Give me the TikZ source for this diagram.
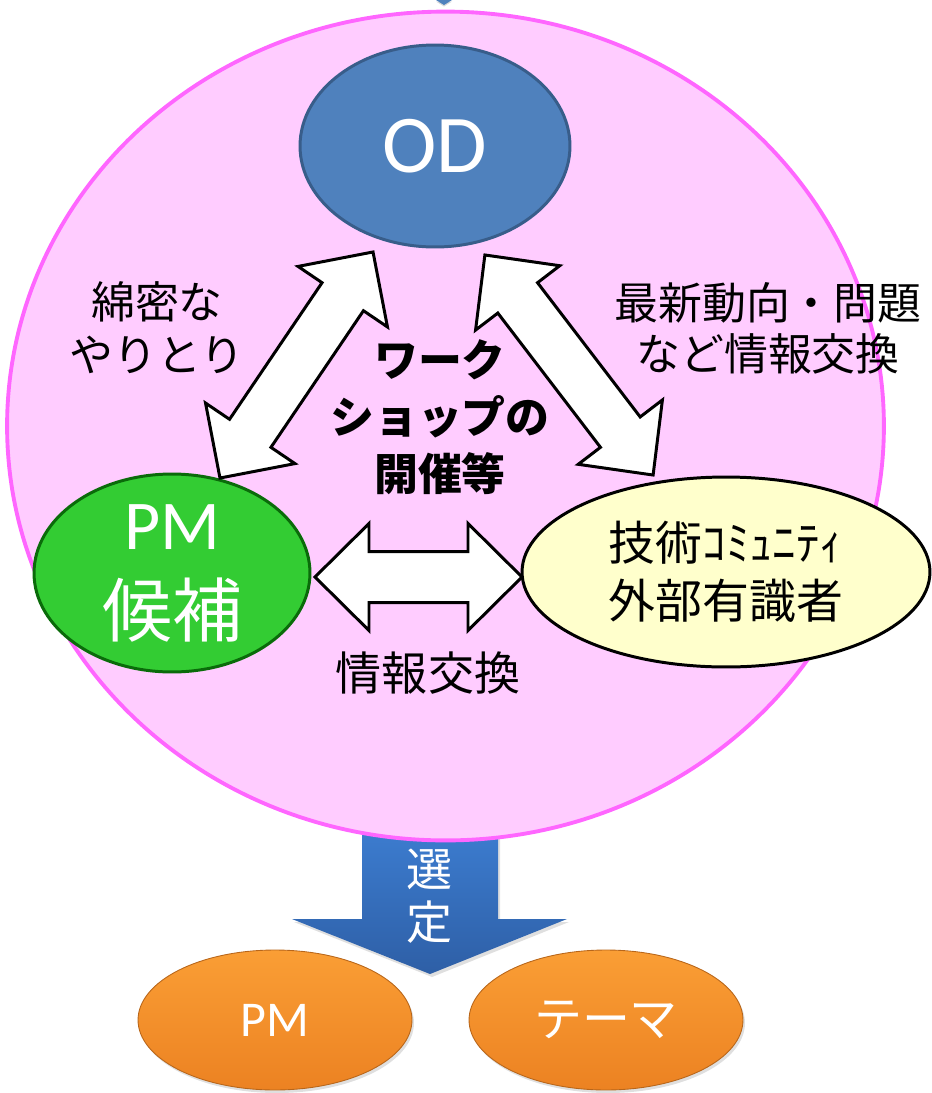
\documentclass[tikz,border=0pt]{standalone}
\usepackage{fontspec}
\setmainfont{Noto Sans CJK JP}
\newfontfamily\lat{Carlito}
\usetikzlibrary{shapes.geometric,shadows}
\definecolor{pinkfill}{HTML}{FFCCFF}
\definecolor{pinkline}{HTML}{FF66FF}
\definecolor{odfill}{HTML}{4F81BD}
\definecolor{odline}{HTML}{385D8A}
\definecolor{pmfill}{HTML}{33CC33}
\definecolor{pmline}{HTML}{0A6B0A}
\definecolor{extfill}{HTML}{FFFFCC}
\definecolor{orgtop}{HTML}{FA9E35}
\definecolor{orgbot}{HTML}{EC8222}
\definecolor{orgline}{HTML}{B8661A}
\definecolor{arrtop}{HTML}{3D7ED2}
\definecolor{arrbot}{HTML}{2E5FA6}
\tikzset{
  bigcircle/.style={ellipse, draw=pinkline, fill=pinkfill, line width=2.2pt, inner sep=0pt},
  odnode/.style={ellipse, draw=odline, fill=odfill, line width=1.7pt, text=white, inner sep=0pt},
  pmnode/.style={ellipse, draw=pmline, fill=pmfill, line width=1.7pt, text=white, inner sep=0pt, align=center},
  extnode/.style={ellipse, draw=black, fill=extfill, line width=1.7pt, inner sep=0pt, align=center},
  resnode/.style={ellipse, draw=orgline, line width=0.5pt, top color=orgtop, bottom color=orgbot, text=white, inner sep=0pt,
     drop shadow={opacity=0.25, shadow xshift=0.04cm, shadow yshift=-0.06cm}},
  lbl/.style={inner sep=0pt, align=center, text=black},
  blk/.style={draw=black, fill=white, line width=1.7pt, line join=miter},
}
\newcommand\blockarrow[7]{%
  \begin{scope}[shift={(#1,#2)}, rotate=#3]
    \draw[blk] ({-#4},0) -- ({-#4+#5},{#6}) -- ({-#4+#5},{#7}) -- ({#4-#5},{#7}) -- ({#4-#5},{#6}) -- ({#4},0)
      -- ({#4-#5},{-#6}) -- ({#4-#5},{-#7}) -- ({-#4+#5},{-#7}) -- ({-#4+#5},{-#6}) -- cycle;
  \end{scope}}
\begin{document}
\begin{tikzpicture}[x=0.02cm, y=-0.02cm]
\useasboundingbox (0,0) rectangle (931,1093);
% tip of an arrow from above
\fill[odfill, drop shadow={opacity=0.3, shadow xshift=0cm, shadow yshift=-0.03cm}] (436,0) -- (452,0) -- (444,5) -- cycle;
% down arrow (behind the big circle)
\path[top color=arrtop, bottom color=arrbot, drop shadow={opacity=0.25, shadow xshift=0.04cm, shadow yshift=-0.06cm}]
  (362,820) -- (498,820) -- (498,919) -- (567,919) -- (430,974) -- (292,919) -- (362,919) -- cycle;
% big circle
\node[bigcircle, minimum width=17.54cm, minimum height=16.58cm] (big) at (445.5,426) {};
\node[text=white, inner sep=0pt, align=center, font=\fontsize{26.2pt}{30pt}\selectfont] (sen) at (430,896) {選\\定};
% nodes
\node[odnode, minimum width=5.4cm, minimum height=4.04cm, font=\lat\fontsize{46.7pt}{50pt}\selectfont] (od) at (435,146) {OD};
\node[pmnode, minimum width=5.52cm, minimum height=3.96cm, font=\fontsize{39.8pt}{49.5pt}\selectfont] (pm) at (172,573) {{\lat PM}\\候補};
\node[extnode, minimum width=8.16cm, minimum height=3.8cm, font=\fontsize{26.7pt}{33pt}\selectfont] (ext) at (726,572) {技術ｺﾐｭﾆﾃｨ\\外部有識者};
% block arrows
\blockarrow{296.5}{365}{55.9}{136.5}{54}{54}{25}
\blockarrow{569}{365}{-52.6}{138.5}{54}{53}{25}
\blockarrow{418.5}{577}{0}{103.5}{54}{53.5}{25.5}
% labels
\node[lbl, font=\fontsize{25pt}{30pt}\selectfont] (l1) at (157,328) {綿密な\\やりとり};
\node[lbl, font=\fontsize{25pt}{29pt}\selectfont] (l2) at (768,328) {最新動向・問題\\など情報交換};
\node[lbl, font=\bfseries\fontsize{25pt}{32.4pt}\selectfont] (l3) at (440,417) {ワーク\\ショップの\\開催等};
\node[lbl, font=\fontsize{26.2pt}{30pt}\selectfont] (l4) at (428,673) {情報交換};
% results
\node[resnode, minimum width=5.48cm, minimum height=2.8cm, font=\lat\fontsize{28.5pt}{30pt}\selectfont] (rpm) at (275,1020) {PM};
\node[resnode, minimum width=5.48cm, minimum height=2.8cm, font=\fontsize{27.3pt}{30pt}\selectfont] (rth) at (606,1020) {テーマ};
\end{tikzpicture}
\end{document}
